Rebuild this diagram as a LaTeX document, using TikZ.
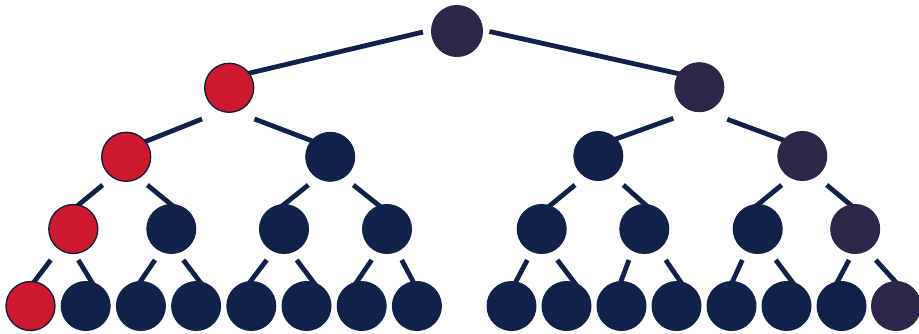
\documentclass[tikz,border=0pt]{standalone}
\usetikzlibrary{calc,backgrounds}
\definecolor{navy}{RGB}{16,34,73}
\definecolor{plum}{RGB}{46,38,72}
\definecolor{treered}{RGB}{204,25,46}
\tikzset{
  bubble/.style={circle,inner sep=0pt,minimum size=49pt,draw=navy,line width=1pt,fill=navy},
  rednode/.style={bubble,fill=treered,draw=navy!80!black,line width=1.3pt},
  plumnode/.style={bubble,fill=plum,draw=plum},
  link/.style={draw=navy,line width=4.8pt,line cap=butt,shorten >=-4pt}
}
\newcommand{\tedge}[6]{\draw[link] ($(#1)+(#2,#3)$) -- ($(#4)+(#5,#6)$);}
\begin{document}
\begin{tikzpicture}[x=1pt,y=-1pt]
\useasboundingbox (0,0) rectangle (919,334);
% level 0
\node[plumnode,minimum size=51pt] (r) at (457,31) {};
% level 1
\node[rednode] (a1) at (229.2,87.8) {};
\node[plumnode] (a2) at (699.3,87.2) {};
% level 2
\node[rednode] (b1) at (126.2,156.8) {};
\node[bubble] (b2) at (330.2,156.8) {};
\node[bubble] (b3) at (598.3,156) {};
\node[plumnode] (b4) at (802.3,156) {};
% level 3
\node[rednode] (c1) at (73.3,229) {};
\node[bubble] (c2) at (171.3,229) {};
\node[bubble] (c3) at (284,229) {};
\node[bubble] (c4) at (387,229) {};
\node[bubble] (c5) at (541.7,229) {};
\node[bubble] (c6) at (644.3,229) {};
\node[bubble] (c7) at (757.7,229) {};
\node[plumnode] (c8) at (855.2,229) {};
% level 4
\node[rednode] (d1) at (30.5,306) {};
\node[bubble] (d2) at (85.7,306) {};
\node[bubble] (d3) at (140.9,306) {};
\node[bubble] (d4) at (196.1,306) {};
\node[bubble] (d5) at (251.3,306) {};
\node[bubble] (d6) at (306.5,306) {};
\node[bubble] (d7) at (361.7,306) {};
\node[bubble] (d8) at (416.9,306) {};
\node[bubble] (d9) at (511.5,306) {};
\node[bubble] (d10) at (566.5,306) {};
\node[bubble] (d11) at (621.5,306) {};
\node[bubble] (d12) at (676.5,306) {};
\node[bubble] (d13) at (731.5,306) {};
\node[bubble] (d14) at (786.5,306) {};
\node[bubble] (d15) at (841.5,306) {};
\node[plumnode] (d16) at (896,306) {};
\begin{scope}[on background layer]
% level 0 -> 1
\tedge{r}{-34}{1}{a1}{20.8}{-14.8}
\tedge{r}{32.5}{0.5}{a2}{-19.3}{-13.2}
% level 1 -> 2
\tedge{a1}{-27.2}{31.2}{b1}{18.8}{-15.1}
\tedge{a1}{25.3}{31.2}{b2}{-19.2}{-16.3}
\tedge{a2}{-26}{31.1}{b3}{16.7}{-16.7}
\tedge{a2}{28}{32.1}{b4}{-17.3}{-15.3}
% level 2 -> 3
\tedge{b1}{-23.5}{28.2}{c1}{5}{-24}
\tedge{b1}{21.1}{28.2}{c2}{0.4}{-24}
\tedge{b2}{-21.9}{28.2}{c3}{-0.7}{-24}
\tedge{b2}{23.1}{28.2}{c4}{-8.7}{-24}
\tedge{b3}{-23.3}{29}{c5}{9}{-24}
\tedge{b3}{25}{29}{c6}{1.4}{-24}
\tedge{b4}{-20.6}{29}{c7}{-0.4}{-24}
\tedge{b4}{24.4}{29}{c8}{-4.5}{-24}
% level 3 -> 4
\tedge{c1}{-22.6}{31}{d1}{3.5}{-24}
\tedge{c1}{5}{31}{d2}{6}{-24}
\tedge{c2}{-16.3}{31}{d3}{-0.9}{-24}
\tedge{c2}{12}{31}{d4}{3.9}{-24}
\tedge{c3}{-17.3}{31}{d5}{-1.3}{-24}
\tedge{c3}{12.7}{31}{d6}{6.8}{-24}
\tedge{c4}{-15.3}{31}{d7}{-5}{-24}
\tedge{c4}{14.7}{31}{d8}{-3.6}{-24}
\tedge{c5}{-14.4}{31}{d9}{4.2}{-24}
\tedge{c5}{15.6}{31}{d10}{7.5}{-24}
\tedge{c6}{-15.3}{31}{d11}{-0.8}{-24}
\tedge{c6}{21.4}{31}{d12}{4.2}{-24}
\tedge{c7}{-15.4}{31}{d13}{0.8}{-24}
\tedge{c7}{18}{31}{d14}{5.8}{-24}
\tedge{c8}{-6.2}{31}{d15}{-4.2}{-24}
\tedge{c8}{20.5}{31}{d16}{-0.3}{-24}
\end{scope}
\end{tikzpicture}
\end{document}
